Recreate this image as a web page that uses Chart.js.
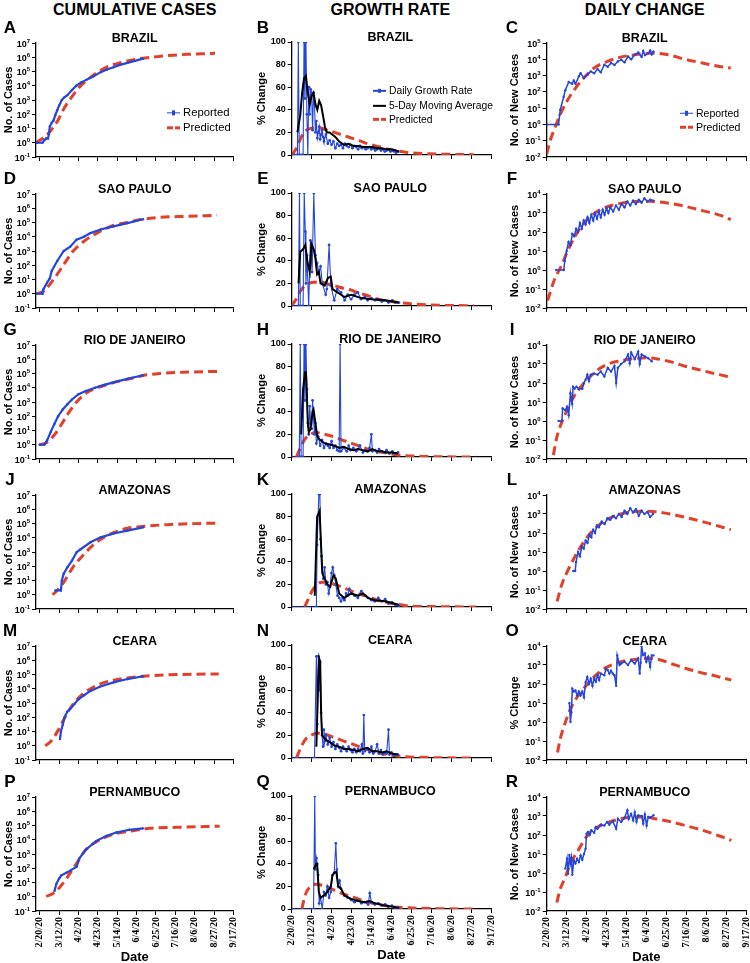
<!DOCTYPE html>
<html>
<head>
<meta charset="utf-8">
<title>COVID-19 Brazil</title>
<script src="https://cdn.jsdelivr.net/npm/chart.js@4.4.1/dist/chart.umd.min.js"></script>
<style>
  body { margin: 0; background: #fff; width: 750px; height: 963px; position: relative; overflow: hidden; font-family: "Liberation Sans", Arial, sans-serif; color: #000; }
  canvas { position: absolute; }
  .txt { position: absolute; white-space: nowrap; line-height: 1; transform: translate(-50%, -50%); font-weight: bold; }
  .leg { position: absolute; white-space: nowrap; line-height: 1; transform: translateY(-50%); display: flex; align-items: center; }
  .sw { display: inline-block; width: 13px; margin-right: 3px; position: relative; }
  .sw.rep { height: 1.5px; background: #2446dc; }
  .sw.rep::after { content: ""; position: absolute; left: 5px; top: -1.5px; width: 3px; height: 4.5px; background: #2446dc; }
  .sw.avg { height: 2.5px; background: #000; }
  .sw.pred { height: 3px; background: repeating-linear-gradient(90deg, #e1412a 0 6px, transparent 6px 8px); }
</style>
</head>
<body>
<script>
// Axis labels
const dateTicks = ["2/20/20", "3/12/20", "4/2/20", "4/23/20", "5/14/20", "6/4/20", "6/25/20", "7/16/20", "8/6/20", "8/27/20", "9/17/20"];
const tickDays = [0, 21, 42, 63, 84, 105, 126, 147, 168, 189, 210];
const regions = ["BRAZIL", "SAO PAULO", "RIO DE JANEIRO", "AMAZONAS", "CEARA", "PERNAMBUCO"];
const letters = "ABCDEFGHIJKLMNOPQR";

// Data: [day since 2/20/20, value]
// Cumulative cases
const brCumRep = [[-3,1],[3,1],[5,1.5],[7,2],[9,2],[10,4],[11,14],[13,25],[15,37],[17,90],[19,190],[21,400],[24,1000],[27,1600],[30,2200],[35,5000],[40,10500],[45,17000],[51,27000],[58,45000],[66,90000],[73,140000],[80,200000],[87,290000],[95,400000],[103,560000],[112,800000]];
const brCumPred = [[-4,1],[3,2],[10,5],[15,13],[20,40],[25,180],[30,600],[36,2100],[43,8000],[51,24000],[58,55000],[66,120000],[75,240000],[84,360000],[93,520000],[102,680000],[116,930000],[130,1150000],[145,1400000],[160,1600000],[175,1750000],[190,1900000]];
const spCumRep = [[-4,1],[3,1],[4,2],[8,6],[11,12],[13,40],[19,200],[26,1000],[33,2000],[40,6300],[48,10000],[55,18000],[66,32000],[80,54000],[95,91000],[112,170000]];
const spCumPred = [[-4,1],[4,1.5],[15,10],[26,110],[36,950],[48,4800],[62,18000],[77,54000],[95,100000],[109,160000],[131,230000],[160,270000],[192,320000]];
const rjCumRep = [[0,1],[5,1],[8,2],[12,8],[16,30],[20,100],[25,300],[30,700],[35,1500],[42,3500],[50,6000],[60,10000],[70,16000],[80,24000],[95,42000],[112,75000]];
const rjCumPred = [[0,1],[8,1.5],[16,5],[24,30],[32,200],[40,1000],[50,4000],[60,9000],[72,16000],[85,28000],[100,46000],[112,72000],[130,100000],[160,125000],[194,140000]];
const amCumRep = [[17,2],[23,2],[24,10],[26,30],[30,85],[35,250],[40,950],[44,1500],[48,2300],[55,4800],[66,10700],[80,20000],[95,32000],[112,54000]];
const amCumPred = [[14,1],[17,1.5],[25,6],[36,85],[48,700],[59,3600],[73,14000],[95,46000],[113,63000],[138,83000],[167,98000],[194,107000]];
const ceCumRep = [[22,3],[23,10],[25,30],[27,100],[30,250],[34,450],[38,900],[42,1800],[48,3500],[55,7000],[65,14000],[80,28000],[95,48000],[112,75000]];
const ceCumPred = [[6,1],[12,2],[20,12],[28,120],[36,800],[45,3500],[55,10000],[67,24000],[80,40000],[95,58000],[112,75000],[135,92000],[165,104000],[194,110000]];
const peCumRep = [[16,2.5],[18,8],[21,19],[23.5,32],[29,48],[34,74],[40,126],[43,500],[50,2000],[61,8000],[72,18600],[83,32000],[97,50000],[112,63000]];
const peCumPred = [[7,1.07],[14,1.6],[22,4.8],[29,19],[40,224],[50,2000],[61,6900],[72,16000],[83,27500],[101,43000],[119,63000],[148,74000],[195,89000]];

// Growth rate (% change)
const brGrowth = [[0,0],[3,0],[6,0],[7,100],[8,0],[10,0],[12,0],[13,100],[14,50],[15,100],[16,36],[17,0],[18,60],[19,36],[20,58],[21,55],[22,22],[23,55],[24,45],[25,20],[26,30],[27,15],[28,20],[29,25],[30,14],[31,18],[32,22],[33,16],[34,12],[36,18],[38,10],[40,13],[42,9],[44,12],[46,6],[48,10],[50,8],[52,9],[54,6],[56,10],[58,8],[60,7],[62,9],[64,6],[66,8],[68,7],[70,5],[72,8],[74,6],[76,7],[78,5],[80,6],[82,7],[84,5],[86,6],[88,4],[90,5],[92,6],[94,4],[96,5],[98,3],[100,4],[102,5],[104,3],[106,4],[108,3],[110,2],[112,3]];
const brGrowthAvg = [[6,20],[9,35],[11,55],[13,68],[15,70],[17,55],[19,45],[21,52],[23,55],[25,45],[27,40],[29,48],[31,44],[33,35],[35,25],[37,20],[40,20],[43,18],[46,16],[50,12],[55,9],[60,10],[65,8],[70,8],[75,7],[80,7],[85,7],[90,6],[95,6],[100,5],[105,5],[110,4],[113,3]];
const brGrowthPred = [[0,0],[3.6,4],[7,10],[12.5,19.5],[18,23],[23,24],[30,24],[37,22],[45,20],[54,17.5],[63,15],[72,12.5],[80,10],[91,7.5],[102,5],[113,3.3],[124,2],[145,1],[165,0.6],[192,0.3]];
const spGrowth = [[0,0],[7,0],[8.2,100],[9,0],[12,0],[13.2,100],[14.3,66],[15,20],[16,45],[17.9,0],[19.7,58],[20.5,45],[21.5,30],[23.3,100],[25,45],[26.8,38],[28.6,30],[30.4,35],[32.2,20],[35.8,10],[37,15],[39.4,54],[41.2,18],[44.8,5],[48,15],[52,12],[55.8,5],[59,10],[62.6,6],[66,10],[69.8,12],[73,6],[77,8],[80,5],[84,7],[87.7,5],[91,6],[95,4],[98,5],[102,3],[106,5],[109,3],[113,3]];
const spGrowthAvg = [[7.2,20],[9,48],[11.8,50],[14.3,54],[16.8,38],[19,30],[20.8,55],[23.3,50],[25,42],[26.8,28],[28.6,30],[30.4,20],[34.7,18],[38.3,25],[41.2,26],[43,15],[48.3,12],[55.5,8],[62.6,10],[73.4,7],[84,6],[98.5,5],[112.8,3]];
const spGrowthPred = [[0,0],[4,5],[9,13],[14,18],[18,20],[24,21],[32,21],[40,19],[45,18],[55,15.5],[63,14],[70,11.5],[77,10],[84,8],[91,6],[100,4.5],[113,3],[125,2],[142,1],[165,0.5],[192,0.2]];
const rjGrowth = [[0,0],[8,0],[9,100],[10,0],[12,0],[13,100],[14,50],[15,100],[16,60],[17,30],[18,20],[19,45],[20,30],[21,25],[22,50],[23,35],[24,20],[25,30],[26,12],[28,18],[30,10],[32,15],[34,8],[36,12],[38,10],[40,8],[42,14],[44,8],[46,10],[48,6],[50,5],[51,100],[52,5],[55,8],[58,5],[60,10],[62,6],[65,8],[68,5],[70,7],[72,10],[75,4],[78,6],[80,5],[82,8],[84,20],[85,5],[88,6],[90,4],[92,7],[95,5],[98,4],[100,6],[103,3],[106,5],[109,3],[112,4]];
const rjGrowthAvg = [[10,20],[12,60],[14,75],[15,75],[16,55],[17,30],[18,22],[20,25],[22,40],[23,42],[25,30],[27,18],[30,15],[35,12],[40,11],[45,10],[50,8],[55,9],[60,7],[65,6],[70,7],[75,6],[80,5],[85,7],[90,5],[95,5],[100,4],[105,4],[112,3]];
const rjGrowthPred = [[5,0],[10,10],[15,17],[20,20],[25,22],[30,21],[40,19],[50,16],[60,13],[70,10],[80,7],[90,5],[100,3.5],[110,2],[120,1.2],[140,0.5],[160,0.2],[194,0]];
const amGrowth = [[0,0],[26,0],[26.8,55],[28.6,100],[29.7,100],[30.4,60],[31.5,45],[33.3,25],[34.7,35],[36.1,20],[37.6,22],[39,12],[40.4,18],[41.9,30],[43.3,35],[44.8,28],[46.5,20],[48.3,10],[50.1,8],[51.9,5],[53.7,8],[55.5,6],[57.3,12],[59,10],[60.8,16],[62.6,12],[66.2,10],[69.8,8],[73.4,14],[77,10],[80.5,8],[84,6],[87.7,5],[91.3,8],[95,5],[98.5,7],[102,3],[105.7,4],[109,2],[112.8,1]];
const amGrowthAvg = [[24.3,10],[26.8,80],[29.4,85],[32.2,30],[34.7,25],[37.6,20],[40.5,18],[44,28],[46.5,25],[50,12],[55.5,8],[59,10],[62.6,12],[69.8,10],[75.2,12],[80.5,8],[87.7,6],[98.5,5],[112.8,2]];
const amGrowthPred = [[13.6,0],[18,8],[22,15],[27,20],[32,22],[39,22],[45,20],[52,18],[59,15.5],[66,13],[77,10],[84,8],[91,6],[99,4.5],[106,3],[115,2],[123,1],[156,0.3],[194,0]];
const ceGrowth = [[0,0],[24,0],[26,90],[27,30],[28,90],[29,60],[30,85],[31,40],[32,20],[33,10],[34,25],[35,15],[36,20],[38,12],[40,18],[42,10],[44,14],[46,8],[48,12],[50,9],[52,6],[54,10],[56,8],[58,6],[60,10],[62,7],[64,5],[66,8],[68,5],[70,8],[72,6],[74,12],[75,4],[76,38],[77,6],[80,8],[82,5],[84,10],[86,4],[88,6],[90,12],[92,4],[94,7],[96,3],[98,5],[100,4],[102,25],[103,3],[105,5],[108,2],[112,3]];
const ceGrowthAvg = [[26,10],[28,70],[29,88],[30,85],[31,40],[32,20],[34,18],[36,16],[40,14],[45,11],[50,10],[55,8],[60,8],[65,7],[70,6],[75,8],[80,9],[85,6],[90,6],[95,5],[100,6],[105,4],[112,3]];
const ceGrowthPred = [[5,0],[10,10],[15,17],[20,20],[27,22],[35,21],[45,18],[55,15],[65,12],[75,9],[85,6],[95,4],[105,2.5],[115,1.5],[130,0.7],[150,0.3],[194,0]];
const peGrowth = [[0,0],[23,0],[24.3,100],[25,35],[26.1,45],[26.8,40],[27.9,30],[29,5],[30.4,10],[32.2,0],[34,15],[35.8,12],[37.6,20],[39.4,10],[41.2,15],[43,30],[44.8,32],[46.5,58],[47.6,35],[49,20],[50.5,25],[51.9,18],[55.5,12],[59,10],[62.6,8],[66.2,6],[69.8,8],[73.4,5],[77,6],[80.5,4],[82.3,14],[84,6],[87.7,4],[91.3,5],[95,3],[98.5,4],[102,2],[105.7,3],[109,1],[112.8,1]];
const peGrowthAvg = [[23.3,35],[25.8,40],[26.8,40],[28.6,15],[30.4,10],[34,12],[37.6,15],[41.2,20],[43,30],[44.8,32],[47,33],[49,20],[52,18],[55.5,12],[62.6,9],[69.8,7],[77,6],[82.3,7],[87.7,5],[98.5,3],[112.8,1]];
const peGrowthPred = [[10.7,0],[14,12],[19.7,20],[25,22],[32.2,21],[41.2,18],[52,14],[62.6,11],[77,7],[91.3,4],[105.7,2],[124,1],[156,0.3],[193,0]];

// Daily new cases
const brNew = [[0,1],[12.5,1],[13.6,3.8],[14.3,8],[17.9,50],[19.6,126],[23.2,400],[26.8,316],[28.6,500],[30.3,316],[33.9,900],[35.7,1400],[39.3,700],[42.8,1100],[46.4,1800],[50,1400],[53.6,2500],[57,1600],[60.7,4600],[64.3,3500],[67.8,5900],[71.4,4500],[75,7400],[78.5,9300],[82,6500],[85.7,15000],[89,10000],[92.8,19000],[96.4,26000],[100,14000],[101.7,32000],[103.5,18000],[107,24000],[109,35000],[110.7,20000],[112.5,30000]];
const brNewPred = [[0,0.015],[3.6,0.1],[9,0.7],[14,3.8],[21,25],[30,160],[39,700],[50,2900],[64,7400],[79,14000],[93,19000],[111,24000],[128,19000],[146,10000],[164,5900],[182,3600],[194,2900]];
const spNew = [[10,1],[18,1],[19,3],[21,10],[23,30],[25,20],[27,80],[29,60],[31,150],[33,100],[35,300],[37,150],[39,400],[41,250],[43,600],[45,300],[47,800],[49,400],[51,1000],[53,500],[55,1200],[57,600],[59,1500],[61,800],[63,1800],[65,1000],[67,2000],[70,1200],[73,2500],[76,1500],[79,3000],[82,2000],[85,4000],[88,2500],[91,4500],[94,3000],[97,5000],[100,3500],[103,6000],[106,4000],[109,5000],[112,4500]];
const spNewPred = [[1,0.025],[8,0.3],[15,1.5],[22,10],[30,60],[38,250],[48,800],[60,1800],[75,3000],[92,4000],[108,4200],[125,3500],[145,2300],[165,1300],[185,700],[194,450]];
const rjNew = [[12.5,1],[16,1],[16.8,4.6],[19.6,3.7],[21.4,5.6],[23.2,2],[25,29],[26.8,8],[27.8,63],[29.3,50],[31.4,63],[33.9,50],[37.5,50],[39.3,100],[41,150],[42.8,275],[44.6,126],[46.4,275],[50,316],[53.6,275],[57,400],[60.7,220],[64.3,630],[67.8,400],[71.4,800],[73.2,100],[75,630],[78.5,1000],[82,1400],[85.7,3200],[87.5,1100],[89,4000],[92.8,1800],[96.4,4500],[98,1000],[100,3200],[103.5,2500],[107,2000],[110.7,1400]];
const rjNewPred = [[7,0.016],[10.7,0.14],[16,0.9],[21.4,3.7],[28.6,19],[37.5,80],[46,220],[57,630],[68,1150],[79,1500],[93,1950],[107,2150],[114,1950],[128.5,1400],[146,760],[164,450],[182,275],[194.6,200]];
const amNew = [[28,1],[30,1],[31,3],[33,10],[35,6],[37,20],[39,15],[41,40],[43,30],[45,80],[47,60],[49,150],[51,100],[53,250],[55,200],[58,400],[61,300],[64,600],[67,500],[70,800],[73,600],[76,1000],[79,700],[82,1500],[85,1000],[88,2000],[91,1200],[94,1800],[97,800],[100,1500],[103,1000],[106,1300],[109,700],[112,1000]];
const amNewPred = [[11,0.025],[16,0.2],[22,1],[30,6],[40,40],[50,160],[60,400],[72,800],[85,1200],[100,1400],[112,1350],[130,1000],[150,600],[170,330],[194,150]];
const ceNew = [[23.9,10],[25,1],[26,3.2],[27,56],[28.6,40],[30.3,46],[32,25],[33.9,40],[35.7,25],[37.5,40],[39.3,20],[41,126],[42.8,234],[44.6,100],[46.4,190],[48.2,80],[50,200],[51.8,130],[53.6,290],[55.3,160],[57,355],[60.7,290],[62.5,630],[64.3,540],[66,355],[67.8,500],[69.6,355],[71.4,290],[73.2,80],[74.3,3200],[76.8,1000],[78.5,1200],[82,1500],[85.7,1000],[89,1800],[92.8,1200],[96.4,2200],[98,355],[99,1300],[100,10000],[101.7,3300],[103.5,4000],[105,1500],[107,2700],[109,800],[110.7,3200],[112.5,3200]];
const ceNewPred = [[11.4,0.025],[14.3,0.13],[19.6,0.95],[25,4.9],[32,20],[43,100],[53.6,355],[64,800],[78.5,1500],[93,1950],[107,2240],[118,1950],[136,980],[157,470],[178.5,260],[194.6,160]];
const peNew = [[19.6,1.7],[21.4,5.6],[22.5,0.9],[23.9,9],[25,3.2],[26,6.3],[27,0.8],[28.6,4.7],[30.3,3.2],[32,5.6],[33.9,3.8],[35.7,8.5],[37.5,5],[39.3,10],[41,19],[42,117],[43.5,145],[45.3,100],[47,178],[50,130],[51.8,263],[53.6,214],[57,347],[60.7,316],[63.5,479],[66,350],[69.6,525],[73.2,214],[75,724],[78.5,479],[82,794],[85,2000],[86.4,700],[89,1300],[91,590],[92.8,1600],[94.6,500],[96.4,1070],[100,1000],[101.7,400],[103.5,1200],[105.3,316],[107,900],[109,800],[112.5,1100]];
const peNewPred = [[10.7,0.028],[14,0.13],[19.6,0.6],[25,3.2],[32,12.6],[43,95],[53.6,263],[64,447],[78.5,724],[93,890],[103.5,890],[114,724],[128.5,525],[146,316],[164,178],[182,89],[194.6,52]];

const cumReported = [brCumRep, spCumRep, rjCumRep, amCumRep, ceCumRep, peCumRep];
const cumPredicted = [brCumPred, spCumPred, rjCumPred, amCumPred, ceCumPred, peCumPred];
const growthDaily = [brGrowth, spGrowth, rjGrowth, amGrowth, ceGrowth, peGrowth];
const growthAverage = [brGrowthAvg, spGrowthAvg, rjGrowthAvg, amGrowthAvg, ceGrowthAvg, peGrowthAvg];
const growthPredicted = [brGrowthPred, spGrowthPred, rjGrowthPred, amGrowthPred, ceGrowthPred, peGrowthPred];
const newReported = [brNew, spNew, rjNew, amNew, ceNew, peNew];
const newPredicted = [brNewPred, spNewPred, rjNewPred, amNewPred, ceNewPred, peNewPred];

// Colors
const BLUE = "#2446dc";
const RED = "#e1412a";

// Column geometry (plot area in page pixels)
const ROW_STEP = 150.8;
const COLS = [
  { left: 0, width: 240, axisW: 36, plotRight: 233.5, xMin: -4, top: 43, h: 114, center: 134.7 },
  { left: 250, width: 245, axisW: 41.7, plotRight: 489, xMin: 0, top: 42, h: 113, center: 390.3 },
  { left: 500, width: 250, axisW: 46.7, plotRight: 742.7, xMin: 0, top: 43, h: 114, center: 644.7 },
];

// Log tick labels with real superscripts
const supLabels = {
  id: "supLabels",
  afterDraw(chart) {
    const s = chart.scales.y;
    if (s.type !== "logarithmic") return;
    const ctx = chart.ctx;
    ctx.save();
    ctx.fillStyle = "#000";
    ctx.textBaseline = "alphabetic";
    s.ticks.forEach((t) => {
      const e = String(Math.round(Math.log10(t.value)));
      const y = s.getPixelForValue(t.value);
      const right = s.right - 6;
      ctx.font = 'bold 6px "Liberation Sans"';
      const ew = ctx.measureText(e).width;
      ctx.textAlign = "left";
      ctx.fillText(e, right - ew, y - 0.5);
      ctx.font = 'bold 9px "Liberation Sans"';
      ctx.textAlign = "right";
      ctx.fillText("10", right - ew, y + 3.5);
    });
    ctx.restore();
  },
};

function addText(text, x, y, size, cls) {
  const d = document.createElement("div");
  d.className = cls || "txt";
  d.style.left = x + "px";
  d.style.top = y + "px";
  d.style.fontSize = size + "px";
  d.textContent = text;
  document.body.appendChild(d);
}

function addLegend(x, y, kind, text, size) {
  const d = document.createElement("div");
  d.className = "leg";
  d.style.left = x + "px";
  d.style.top = y + "px";
  d.style.fontSize = size + "px";
  d.innerHTML = `<span class="sw ${kind}"></span>${text}`;
  document.body.appendChild(d);
}

function makeChart(c, r, datasets, yScale, yTitle) {
  const g = COLS[c];
  const last = r === 5;
  const plotTop = Math.round(g.top + r * ROW_STEP);
  const xH = last ? 56 : 8;
  const canvas = document.createElement("canvas");
  canvas.width = g.width;
  canvas.height = 8 + g.h + xH;
  canvas.style.left = g.left + "px";
  canvas.style.top = plotTop - 8 + "px";
  document.body.appendChild(canvas);

  const tickGrid = { display: true, drawOnChartArea: false, drawTicks: true, tickLength: 4, color: "#000", lineWidth: 1 };
  const axisBorder = { display: true, color: "#000", width: 1.3 };

  new Chart(canvas, {
    type: "line",
    data: { datasets: datasets },
    options: {
      responsive: false,
      animation: false,
      layout: { padding: { top: 8, right: g.width - g.plotRight, left: 0, bottom: 0 } },
      plugins: { legend: { display: false }, tooltip: { enabled: false } },
      scales: {
        x: {
          type: "linear",
          min: g.xMin,
          max: 210,
          afterBuildTicks: (s) => { s.ticks = tickDays.map((v) => ({ value: v })); },
          afterFit: (s) => { s.height = xH; s.paddingLeft = 0; s.paddingRight = 0; },
          border: axisBorder,
          grid: tickGrid,
          ticks: {
            display: last,
            autoSkip: false,
            minRotation: 90,
            maxRotation: 90,
            padding: 2,
            color: "#000",
            font: { family: "Liberation Serif", size: 10, weight: "bold" },
            callback: (v, i) => dateTicks[i],
          },
          title: {
            display: last,
            text: "Date",
            color: "#000",
            font: { family: "Liberation Sans", size: 13, weight: "bold" },
            padding: { top: 0, bottom: 2 },
          },
        },
        y: Object.assign({
          afterFit: (s) => { s.width = g.axisW; s.paddingTop = 0; s.paddingBottom = 0; },
          border: axisBorder,
          grid: tickGrid,
          title: {
            display: true,
            text: yTitle,
            color: "#000",
            font: { family: "Liberation Sans", size: 11, weight: "bold" },
            padding: { top: [2, 5, 8][c], bottom: 0 },
          },
        }, yScale),
      },
    },
    plugins: [supLabels],
  });
}

function logAxis(lo, hi) {
  const exps = [];
  for (let e = lo; e <= hi; e++) exps.push(e);
  return {
    type: "logarithmic",
    min: Math.pow(10, lo),
    max: Math.pow(10, hi),
    afterBuildTicks: (s) => { s.ticks = exps.map((e) => ({ value: Math.pow(10, e) })); },
    ticks: { autoSkip: false, callback: () => "", padding: 2 },
  };
}

const linAxis = {
  type: "linear",
  min: 0,
  max: 100,
  ticks: { stepSize: 20, autoSkip: false, padding: 2, color: "#000", font: { family: "Liberation Sans", size: 9, weight: "bold" } },
};

function reportedSet(data, width) {
  return { data: data, borderColor: BLUE, backgroundColor: BLUE, borderWidth: width, pointRadius: 1.2, pointBorderWidth: 0, tension: 0 };
}
function predictedSet(data) {
  return { data: data, borderColor: RED, borderWidth: 3, borderDash: [9, 5], pointRadius: 0, cubicInterpolationMode: "monotone" };
}

// Headers
addText("CUMULATIVE CASES", COLS[0].center, 10, 16);
addText("GROWTH RATE", COLS[1].center, 10, 16);
addText("DAILY CHANGE", COLS[2].center, 10, 16);

const letterX = [10, 263, 512];

for (let r = 0; r < 6; r++) {
  // Cumulative
  makeChart(0, r, [reportedSet(cumReported[r], 2.2), predictedSet(cumPredicted[r])], logAxis(-1, 7), "No. of Cases");
  // Growth rate
  makeChart(1, r, [
    { data: growthAverage[r], borderColor: "#000", borderWidth: 2, pointRadius: 0 },
    { data: growthDaily[r], borderColor: BLUE, backgroundColor: BLUE, borderWidth: 1.1, pointRadius: 1.4, pointBorderWidth: 0 },
    predictedSet(growthPredicted[r]),
  ], linAxis, "% Change");
  // Daily change
  makeChart(2, r, [reportedSet(newReported[r], 1.5), predictedSet(newPredicted[r])], logAxis(-2, r === 0 ? 5 : 4), r === 4 ? "% Change" : "No. of New Cases");

  for (let c = 0; c < 3; c++) {
    addText(letters[r * 3 + c], letterX[c], 27 + r * ROW_STEP, 17);
    addText(regions[r], COLS[c].center, (c === 1 ? 37 : 38) + r * ROW_STEP, 12.5);
  }
}

// Legends (first row)
addLegend(167, 113, "rep", "Reported", 11.3);
addLegend(167, 128, "pred", "Predicted", 11.3);
addLegend(373, 91, "rep", "Daily Growth Rate", 10.3);
addLegend(373, 106, "avg", "5-Day Moving Average", 10.3);
addLegend(373, 119.5, "pred", "Predicted", 10.3);
addLegend(680, 113, "rep", "Reported", 10.5);
addLegend(680, 127, "pred", "Predicted", 10.5);
</script>
</body>
</html>
